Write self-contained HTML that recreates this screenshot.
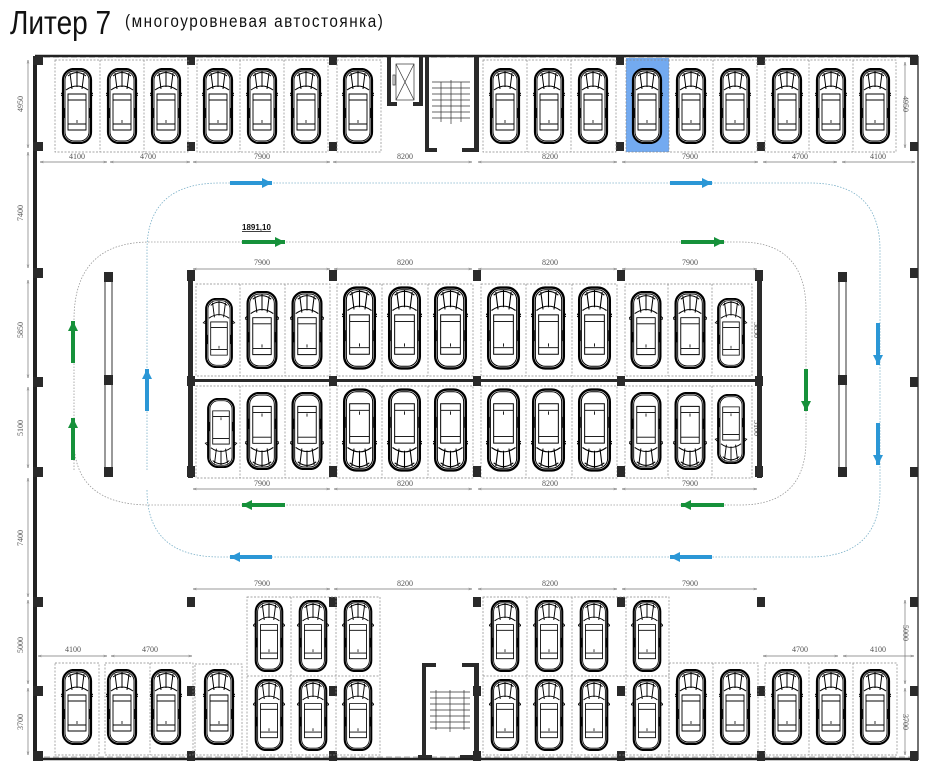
<!DOCTYPE html>
<html><head><meta charset="utf-8"><style>
body{margin:0;background:#fff}
svg{display:block}
.d{font-family:"Liberation Serif",serif;font-size:8px;fill:#555}
</style></head><body>
<svg width="929" height="768" viewBox="0 0 929 768" xmlns="http://www.w3.org/2000/svg">
<defs>
<symbol id="car" viewBox="0 0 32 76">
<rect x="2" y="1" width="28" height="74" rx="11" fill="#fff" stroke="#000" stroke-width="2.2"/>
<rect x="4" y="3" width="24" height="70" rx="9" fill="none" stroke="#000" stroke-width="0.9"/>
<path d="M5 22 Q16 14 27 22 M9 5 L11 21 M16 3 L16 19 M23 5 L21 21 M7 8 Q16 1 25 8" fill="none" stroke="#000" stroke-width="1"/>
<path d="M7 26 H25 V62 H7 Z M7 32 H25 M7 56 H25" fill="none" stroke="#000" stroke-width="0.9"/>
<path d="M2 24 L-1 27 L2 28 M30 24 L33 27 L30 28" fill="none" stroke="#000" stroke-width="0.9"/>
<path d="M16 52 V55" stroke="#000" stroke-width="0.8"/>
<rect x="1.5" y="40" width="2" height="10" fill="#000"/><rect x="28.5" y="40" width="2" height="10" fill="#000"/>
</symbol>
<marker id="ab" viewBox="0 0 10 10" refX="10" refY="5" markerWidth="12" markerHeight="10" markerUnits="userSpaceOnUse" orient="auto"><path d="M0 0L10 5L0 10Z" fill="#2b97d6"/></marker>
<marker id="ag" viewBox="0 0 10 10" refX="10" refY="5" markerWidth="12" markerHeight="10" markerUnits="userSpaceOnUse" orient="auto"><path d="M0 0L10 5L0 10Z" fill="#16913a"/></marker>
<marker id="da" viewBox="0 0 10 10" refX="10" refY="5" markerWidth="5" markerHeight="5" orient="auto-start-reverse"><path d="M0 2L10 5L0 8" fill="none" stroke="#666"/></marker>
</defs>

<text x="0" y="34" font-family="Liberation Sans,sans-serif" font-size="33" transform="translate(10 0) scale(0.85 1)" fill="#111">Литер 7</text>
<text x="0" y="27" font-family="Liberation Sans,sans-serif" font-size="18" letter-spacing="1.8" transform="translate(125 0) scale(0.85 1)" fill="#111">(многоуровневая автостоянка)</text>

<line x1="35" y1="56" x2="918" y2="56" stroke="#222" stroke-width="2.5"/>
<line x1="35" y1="57.5" x2="918" y2="57.5" stroke="#aaa" stroke-width="1" stroke-dasharray="6 3"/>
<line x1="35" y1="759" x2="918" y2="759" stroke="#222" stroke-width="2.5"/>
<line x1="35" y1="757" x2="918" y2="757" stroke="#aaa" stroke-width="1" stroke-dasharray="6 3"/>
<rect x="33" y="56" width="4" height="704" fill="#222"/>
<line x1="918" y1="56" x2="918" y2="760" stroke="#444" stroke-width="1.5"/>
<g fill="#2a2a2a">
<rect x="33" y="56" width="10" height="9"/><rect x="33" y="142" width="10" height="9"/>
<rect x="33" y="268" width="10" height="10"/><rect x="33" y="377" width="10" height="10"/><rect x="33" y="467" width="10" height="10"/>
<rect x="33" y="597" width="10" height="10"/><rect x="33" y="686" width="10" height="10"/><rect x="33" y="751" width="10" height="10"/>
<rect x="910" y="56" width="8" height="9"/><rect x="910" y="142" width="8" height="9"/>
<rect x="910" y="268" width="8" height="10"/><rect x="910" y="377" width="8" height="10"/><rect x="910" y="467" width="8" height="10"/>
<rect x="910" y="597" width="8" height="10"/><rect x="910" y="686" width="8" height="10"/><rect x="910" y="751" width="8" height="10"/>
<rect x="187" y="56" width="8" height="9"/><rect x="187" y="142" width="8" height="9"/>
<rect x="329" y="56" width="8" height="9"/><rect x="329" y="142" width="8" height="9"/>
<rect x="616" y="56" width="8" height="9"/><rect x="616" y="142" width="8" height="9"/>
<rect x="757" y="56" width="8" height="9"/><rect x="757" y="142" width="8" height="9"/>
</g>

<rect x="626" y="58" width="43" height="94" fill="#73aaf0"/>
<g fill="none" stroke="#888" stroke-width="0.7" stroke-dasharray="2 1.5">
<rect x="55" y="60" width="133" height="92"/><line x1="100" y1="60" x2="100" y2="152"/><line x1="144" y1="60" x2="144" y2="152"/>
<rect x="197" y="60" width="131" height="92"/><line x1="240" y1="60" x2="240" y2="152"/><line x1="284" y1="60" x2="284" y2="152"/>
<rect x="337" y="60" width="44" height="92"/>
<rect x="483" y="60" width="133" height="92"/><line x1="527" y1="60" x2="527" y2="152"/><line x1="571" y1="60" x2="571" y2="152"/>
<rect x="626" y="60" width="131" height="92"/><line x1="669" y1="60" x2="669" y2="152"/><line x1="713" y1="60" x2="713" y2="152"/>
<rect x="765" y="60" width="131" height="92"/><line x1="809" y1="60" x2="809" y2="152"/><line x1="853" y1="60" x2="853" y2="152"/>
</g>
<g>
<use href="#car" x="61" y="68" width="32" height="76"/><use href="#car" x="106" y="68" width="32" height="76"/><use href="#car" x="150" y="68" width="32" height="76"/>
<use href="#car" x="202" y="68" width="32" height="76"/><use href="#car" x="246" y="68" width="32" height="76"/><use href="#car" x="290" y="68" width="32" height="76"/>
<use href="#car" x="342" y="68" width="32" height="76"/>
<use href="#car" x="489" y="68" width="32" height="76"/><use href="#car" x="533" y="68" width="32" height="76"/><use href="#car" x="577" y="68" width="32" height="76"/>
<use href="#car" x="631" y="68" width="32" height="76"/><use href="#car" x="675" y="68" width="32" height="76"/><use href="#car" x="719" y="68" width="32" height="76"/>
<use href="#car" x="771" y="68" width="32" height="76"/><use href="#car" x="815" y="68" width="32" height="76"/><use href="#car" x="859" y="68" width="32" height="76"/>
</g>

<g fill="#2a2a2a">
<rect x="387" y="56" width="4" height="50"/><rect x="387" y="102" width="10" height="4"/><rect x="413" y="102" width="10" height="4"/><rect x="419" y="56" width="4" height="50"/>
<rect x="425" y="56" width="4" height="96"/><rect x="425" y="148" width="12" height="4"/><rect x="462" y="148" width="16" height="4"/><rect x="474" y="56" width="5" height="96"/>
</g>
<g fill="none" stroke="#333" stroke-width="0.7">
<rect x="396" y="64" width="18" height="36"/><path d="M396 64L414 100M414 64L396 100"/><rect x="393" y="75" width="2" height="10"/>
<path d="M432 82H470M432 88H470M432 94H470M432 100H470M432 106H470M432 112H470M432 118H470M451 80V124M441 82V122M461 82V122"/>
</g>

<g stroke="#777" stroke-width="0.7">
<line x1="40" y1="162" x2="107" y2="162" marker-start="url(#da)" marker-end="url(#da)"/>
<line x1="110" y1="162" x2="190" y2="162" marker-start="url(#da)" marker-end="url(#da)"/>
<line x1="193" y1="162" x2="330" y2="162" marker-start="url(#da)" marker-end="url(#da)"/>
<line x1="333" y1="162" x2="472" y2="162" marker-start="url(#da)" marker-end="url(#da)"/>
<line x1="478" y1="162" x2="617" y2="162" marker-start="url(#da)" marker-end="url(#da)"/>
<line x1="622" y1="162" x2="758" y2="162" marker-start="url(#da)" marker-end="url(#da)"/>
<line x1="763" y1="162" x2="837" y2="162" marker-start="url(#da)" marker-end="url(#da)"/>
<line x1="842" y1="162" x2="915" y2="162" marker-start="url(#da)" marker-end="url(#da)"/>
<line x1="28" y1="60" x2="28" y2="148" marker-start="url(#da)" marker-end="url(#da)"/>
<line x1="905" y1="62" x2="905" y2="148" marker-start="url(#da)" marker-end="url(#da)"/>
</g>
<g class="d" text-anchor="middle">
<text x="77" y="159">4100</text><text x="148" y="159">4700</text><text x="262" y="159">7900</text><text x="405" y="159">8200</text>
<text x="550" y="159">8200</text><text x="690" y="159">7900</text><text x="800" y="159">4700</text><text x="878" y="159">4100</text>
<text x="262" y="265">7900</text><text x="405" y="265">8200</text><text x="550" y="265">8200</text><text x="690" y="265">7900</text>
<text x="262" y="486">7900</text><text x="405" y="486">8200</text><text x="550" y="486">8200</text><text x="690" y="486">7900</text>
<text x="262" y="586">7900</text><text x="405" y="586">8200</text><text x="550" y="586">8200</text><text x="690" y="586">7900</text>
<text x="73" y="652">4100</text><text x="150" y="652">4700</text><text x="800" y="652">4700</text><text x="878" y="652">4100</text>
<text transform="translate(23 104) rotate(-90)">4950</text>
<text transform="translate(23 213) rotate(-90)">7400</text>
<text transform="translate(23 330) rotate(-90)">5850</text>
<text transform="translate(23 428) rotate(-90)">5100</text>
<text transform="translate(23 538) rotate(-90)">7400</text>
<text transform="translate(23 645) rotate(-90)">5000</text>
<text transform="translate(23 722) rotate(-90)">3700</text>
<text transform="translate(903 104) rotate(90)">4950</text>
<text transform="translate(903 633) rotate(90)">5000</text>
<text transform="translate(903 722) rotate(90)">3700</text>
<text transform="translate(754 330) rotate(90)">5850</text>
<text transform="translate(754 428) rotate(90)">5100</text>
</g>
<g stroke="#777" stroke-width="0.7">
<line x1="28" y1="152" x2="28" y2="268" marker-start="url(#da)" marker-end="url(#da)"/>
<line x1="28" y1="280" x2="28" y2="378" marker-start="url(#da)" marker-end="url(#da)"/>
<line x1="28" y1="387" x2="28" y2="468" marker-start="url(#da)" marker-end="url(#da)"/>
<line x1="28" y1="478" x2="28" y2="597" marker-start="url(#da)" marker-end="url(#da)"/>
<line x1="28" y1="600" x2="28" y2="684" marker-start="url(#da)" marker-end="url(#da)"/>
<line x1="28" y1="688" x2="28" y2="755" marker-start="url(#da)" marker-end="url(#da)"/>
<line x1="905" y1="600" x2="905" y2="684" marker-start="url(#da)" marker-end="url(#da)"/>
<line x1="905" y1="688" x2="905" y2="755" marker-start="url(#da)" marker-end="url(#da)"/>
<line x1="193" y1="269" x2="330" y2="269" marker-start="url(#da)" marker-end="url(#da)"/>
<line x1="334" y1="269" x2="472" y2="269" marker-start="url(#da)" marker-end="url(#da)"/>
<line x1="478" y1="269" x2="617" y2="269" marker-start="url(#da)" marker-end="url(#da)"/>
<line x1="622" y1="269" x2="757" y2="269" marker-start="url(#da)" marker-end="url(#da)"/>
<line x1="193" y1="489" x2="330" y2="489" marker-start="url(#da)" marker-end="url(#da)"/>
<line x1="334" y1="489" x2="472" y2="489" marker-start="url(#da)" marker-end="url(#da)"/>
<line x1="478" y1="489" x2="617" y2="489" marker-start="url(#da)" marker-end="url(#da)"/>
<line x1="622" y1="489" x2="757" y2="489" marker-start="url(#da)" marker-end="url(#da)"/>
<line x1="193" y1="589" x2="330" y2="589" marker-start="url(#da)" marker-end="url(#da)"/>
<line x1="334" y1="589" x2="472" y2="589" marker-start="url(#da)" marker-end="url(#da)"/>
<line x1="478" y1="589" x2="617" y2="589" marker-start="url(#da)" marker-end="url(#da)"/>
<line x1="622" y1="589" x2="757" y2="589" marker-start="url(#da)" marker-end="url(#da)"/>
<line x1="38" y1="656" x2="107" y2="656" marker-start="url(#da)" marker-end="url(#da)"/>
<line x1="111" y1="656" x2="192" y2="656" marker-start="url(#da)" marker-end="url(#da)"/>
<line x1="763" y1="656" x2="838" y2="656" marker-start="url(#da)" marker-end="url(#da)"/>
<line x1="843" y1="656" x2="914" y2="656" marker-start="url(#da)" marker-end="url(#da)"/>
</g>

<path d="M147 470 V250 Q147 183 220 183 H810 Q880 183 880 250 V490 Q880 557 810 557 H220 Q147 557 147 490" fill="none" stroke="#7ab0c8" stroke-width="0.8" stroke-dasharray="1.5 1.5"/>
<path d="M74 470 V320 Q74 242 150 242 H740 Q806 242 806 310 V440 Q806 505 740 505 H150 Q74 505 74 440" fill="none" stroke="#999" stroke-width="0.8" stroke-dasharray="1.5 1.5"/>
<g stroke-width="4">
<line x1="230" y1="183" x2="272" y2="183" stroke="#2b97d6" marker-end="url(#ab)"/>
<line x1="670" y1="183" x2="712" y2="183" stroke="#2b97d6" marker-end="url(#ab)"/>
<line x1="272" y1="557" x2="230" y2="557" stroke="#2b97d6" marker-end="url(#ab)"/>
<line x1="712" y1="557" x2="670" y2="557" stroke="#2b97d6" marker-end="url(#ab)"/>
<line x1="147" y1="411" x2="147" y2="369" stroke="#2b97d6" marker-end="url(#ab)"/>
<line x1="878" y1="323" x2="878" y2="365" stroke="#2b97d6" marker-end="url(#ab)"/>
<line x1="878" y1="423" x2="878" y2="465" stroke="#2b97d6" marker-end="url(#ab)"/>
<line x1="242" y1="242" x2="285" y2="242" stroke="#16913a" marker-end="url(#ag)"/>
<line x1="681" y1="242" x2="724" y2="242" stroke="#16913a" marker-end="url(#ag)"/>
<line x1="285" y1="505" x2="242" y2="505" stroke="#16913a" marker-end="url(#ag)"/>
<line x1="724" y1="505" x2="681" y2="505" stroke="#16913a" marker-end="url(#ag)"/>
<line x1="73" y1="363" x2="73" y2="321" stroke="#16913a" marker-end="url(#ag)"/>
<line x1="73" y1="460" x2="73" y2="418" stroke="#16913a" marker-end="url(#ag)"/>
<line x1="806" y1="369" x2="806" y2="411" stroke="#16913a" marker-end="url(#ag)"/>
</g>
<text x="242" y="230" font-family="Liberation Sans,sans-serif" font-size="8" font-weight="bold" text-decoration="underline" fill="#111">1891,10</text>

<rect x="105" y="275" width="7" height="200" fill="#fff" stroke="#333" stroke-width="1"/>
<rect x="839" y="275" width="7" height="200" fill="#fff" stroke="#333" stroke-width="1"/>
<g fill="#2a2a2a">
<rect x="104" y="272" width="9" height="10"/><rect x="104" y="375" width="9" height="10"/><rect x="104" y="467" width="9" height="10"/>
<rect x="838" y="272" width="9" height="10"/><rect x="838" y="375" width="9" height="10"/><rect x="838" y="467" width="9" height="10"/>
</g>

<g fill="none" stroke="#888" stroke-width="0.7" stroke-dasharray="2 1.5">
<rect x="196" y="284" width="134" height="92"/><line x1="240" y1="284" x2="240" y2="376"/><line x1="285" y1="284" x2="285" y2="376"/>
<rect x="196" y="386" width="134" height="92"/><line x1="240" y1="386" x2="240" y2="478"/><line x1="285" y1="386" x2="285" y2="478"/>
<rect x="337" y="284" width="136" height="92"/><line x1="382" y1="284" x2="382" y2="376"/><line x1="428" y1="284" x2="428" y2="376"/>
<rect x="337" y="386" width="136" height="92"/><line x1="382" y1="386" x2="382" y2="478"/><line x1="428" y1="386" x2="428" y2="478"/>
<rect x="481" y="284" width="136" height="92"/><line x1="526" y1="284" x2="526" y2="376"/><line x1="572" y1="284" x2="572" y2="376"/>
<rect x="481" y="386" width="136" height="92"/><line x1="526" y1="386" x2="526" y2="478"/><line x1="572" y1="386" x2="572" y2="478"/>
<rect x="625" y="284" width="127" height="92"/><line x1="668" y1="284" x2="668" y2="376"/><line x1="712" y1="284" x2="712" y2="376"/>
<rect x="625" y="386" width="127" height="92"/><line x1="668" y1="386" x2="668" y2="478"/><line x1="712" y1="386" x2="712" y2="478"/>
</g>
<g fill="#2a2a2a">
<rect x="188" y="270" width="5" height="208"/><rect x="757" y="270" width="5" height="208"/>
<rect x="193" y="379" width="564" height="3"/>
<rect x="187" y="270" width="8" height="11"/><rect x="187" y="376" width="8" height="10"/><rect x="187" y="466" width="8" height="11"/>
<rect x="329" y="270" width="8" height="11"/><rect x="329" y="376" width="8" height="10"/><rect x="329" y="466" width="8" height="11"/>
<rect x="473" y="270" width="8" height="11"/><rect x="473" y="376" width="8" height="10"/><rect x="473" y="466" width="8" height="11"/>
<rect x="617" y="270" width="8" height="11"/><rect x="617" y="376" width="8" height="10"/><rect x="617" y="466" width="8" height="11"/>
<rect x="755" y="270" width="8" height="11"/><rect x="755" y="376" width="8" height="10"/><rect x="755" y="466" width="8" height="11"/>
</g>
<g>
<use href="#car" x="202" y="298" width="34" height="70"/><use href="#car" x="245" y="291" width="34" height="78"/><use href="#car" x="290" y="291" width="34" height="78"/>
<use href="#car" x="342" y="286" width="35" height="84"/><use href="#car" x="387" y="286" width="35" height="84"/><use href="#car" x="433" y="286" width="35" height="84"/>
<use href="#car" x="486" y="286" width="35" height="84"/><use href="#car" x="531" y="286" width="35" height="84"/><use href="#car" x="577" y="286" width="35" height="84"/>
<use href="#car" x="629" y="291" width="34" height="78"/><use href="#car" x="673" y="291" width="34" height="78"/><use href="#car" x="714" y="298" width="34" height="70"/>
</g>
<g transform="rotate(180 475 431)">
<use href="#car" x="712" y="394" width="34" height="70"/><use href="#car" x="671" y="392" width="34" height="78"/><use href="#car" x="626" y="392" width="34" height="78"/>
<use href="#car" x="573" y="390" width="35" height="84"/><use href="#car" x="528" y="390" width="35" height="84"/><use href="#car" x="482" y="390" width="35" height="84"/>
<use href="#car" x="429" y="390" width="35" height="84"/><use href="#car" x="384" y="390" width="35" height="84"/><use href="#car" x="338" y="390" width="35" height="84"/>
<use href="#car" x="287" y="392" width="34" height="78"/><use href="#car" x="243" y="392" width="34" height="78"/><use href="#car" x="202" y="398" width="34" height="70"/>
</g>

<g fill="#2a2a2a">
<rect x="187" y="597" width="8" height="10"/><rect x="329" y="597" width="8" height="10"/><rect x="473" y="597" width="8" height="10"/><rect x="617" y="597" width="8" height="10"/><rect x="757" y="597" width="8" height="10"/>
<rect x="187" y="686" width="8" height="10"/><rect x="329" y="686" width="8" height="10"/><rect x="473" y="686" width="8" height="10"/><rect x="617" y="686" width="8" height="10"/><rect x="757" y="686" width="8" height="10"/>
<rect x="187" y="751" width="8" height="10"/><rect x="329" y="751" width="8" height="10"/><rect x="473" y="751" width="8" height="10"/><rect x="617" y="751" width="8" height="10"/><rect x="757" y="751" width="8" height="10"/>
<rect x="422" y="663" width="4" height="94"/><rect x="422" y="663" width="14" height="4"/><rect x="462" y="663" width="16" height="4"/><rect x="474" y="663" width="5" height="96"/><rect x="418" y="755" width="14" height="3"/><rect x="460" y="755" width="20" height="3"/>
</g>
<g fill="none" stroke="#333" stroke-width="0.7">
<path d="M430 692H470M430 698H470M430 704H470M430 710H470M430 716H470M430 722H470M430 728H470M450 690V732M436 690V730M464 690V730"/>
</g>
<g fill="none" stroke="#888" stroke-width="0.7" stroke-dasharray="2 1.5">
<rect x="247" y="597" width="133" height="158"/><line x1="291" y1="597" x2="291" y2="755"/><line x1="336" y1="597" x2="336" y2="755"/><line x1="247" y1="676" x2="380" y2="676"/>
<rect x="55" y="663" width="44" height="92"/><rect x="105" y="663" width="88" height="92"/><line x1="150" y1="663" x2="150" y2="755"/><rect x="195" y="664" width="47" height="91"/>
<rect x="483" y="597" width="186" height="158"/><line x1="527" y1="597" x2="527" y2="755"/><line x1="572" y1="597" x2="572" y2="755"/><line x1="626" y1="597" x2="626" y2="755"/><line x1="483" y1="676" x2="669" y2="676"/>
<rect x="669" y="663" width="89" height="92"/><line x1="713" y1="663" x2="713" y2="755"/>
<rect x="765" y="663" width="132" height="92"/><line x1="809" y1="663" x2="809" y2="755"/><line x1="853" y1="663" x2="853" y2="755"/>
</g>
<g>
<use href="#car" x="253" y="600" width="32" height="72"/><use href="#car" x="297" y="600" width="32" height="72"/><use href="#car" x="342" y="600" width="32" height="72"/>
<use href="#car" x="253" y="679" width="32" height="72"/><use href="#car" x="297" y="679" width="32" height="72"/><use href="#car" x="342" y="679" width="32" height="72"/>
<use href="#car" x="489" y="600" width="32" height="72"/><use href="#car" x="533" y="600" width="32" height="72"/><use href="#car" x="578" y="600" width="32" height="72"/><use href="#car" x="631" y="600" width="32" height="72"/>
<use href="#car" x="489" y="679" width="32" height="72"/><use href="#car" x="533" y="679" width="32" height="72"/><use href="#car" x="578" y="679" width="32" height="72"/><use href="#car" x="631" y="679" width="32" height="72"/>
<use href="#car" x="675" y="669" width="32" height="76"/><use href="#car" x="719" y="669" width="32" height="76"/>
<use href="#car" x="771" y="669" width="32" height="76"/><use href="#car" x="815" y="669" width="32" height="76"/><use href="#car" x="859" y="669" width="32" height="76"/>
<use href="#car" x="61" y="669" width="32" height="76"/><use href="#car" x="106" y="669" width="32" height="76"/><use href="#car" x="150" y="669" width="32" height="76"/><use href="#car" x="203" y="669" width="32" height="76"/>
</g>
</svg>
</body></html>
